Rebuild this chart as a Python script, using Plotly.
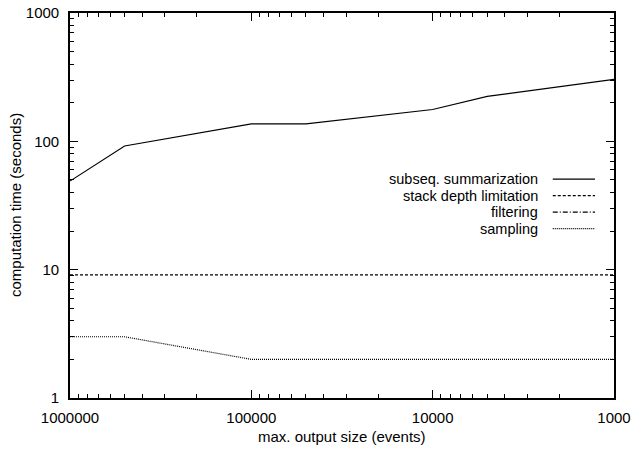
import plotly.graph_objects as go

# Data
output_sizes = [1000000, 500000, 100000, 50000, 10000, 5000, 1000]
subseq_summarization = [49, 92, 137, 137, 177, 224, 304]
stack_depth_limitation = [9.1, 9.1, 9.1, 9.1, 9.1, 9.1, 9.1]
filtering = []  # not visible within the plotted range
sampling = [3, 3, 2, 2, 2, 2, 2]

series_names = ["subseq. summarization", "stack depth limitation", "filtering", "sampling"]
series_dash = ["solid", "3px,2px", "5px,2px,1px,2px", "1px,1px"]
series_values = [subseq_summarization, stack_depth_limitation, filtering, sampling]

x_ticks = [1000000, 100000, 10000, 1000]
x_ticklabels = ["1000000", "100000", "10000", "1000"]
y_ticks = [1, 10, 100, 1000]
y_ticklabels = ["1", "10", "100", "1000"]
x_minor = [m * 10 ** e for e in range(3, 6) for m in range(2, 10)]
y_minor = [m * 10 ** e for e in range(0, 3) for m in range(2, 10)]

W, H = 633, 449
ml, mr, mt, mb = 69.5, 19, 13.3, 50.7
pw, ph = W - ml - mr, H - mt - mb

fig = go.Figure()
for name, vals, dash in zip(series_names, series_values, series_dash):
    fig.add_trace(go.Scatter(
        x=output_sizes[:len(vals)], y=vals, mode="lines", name=name,
        line=dict(color="black", width=1.2, dash=dash), showlegend=False,
    ))

font = dict(family="Liberation Sans, Arial, Helvetica, sans-serif", size=15, color="black")
legend_font = dict(font, size=14.5)

axis_common = dict(
    type="log", showgrid=False, zeroline=False, showline=True, linecolor="black",
    linewidth=1.6, mirror="allticks", ticks="inside", ticklen=8, tickwidth=1,
    tickcolor="black", tickfont=font, automargin=False, tickmode="array",
)
minor_common = dict(ticks="inside", ticklen=4.5, tickwidth=1, tickcolor="black",
                    showgrid=False, tickmode="array")

fig.update_layout(
    template="none",
    width=W, height=H, autosize=False,
    margin=dict(l=ml, r=mr, t=mt, b=mb, pad=0),
    plot_bgcolor="white", paper_bgcolor="white", font=font, showlegend=False,
    xaxis=dict(axis_common, range=[6, 3], autorange=False,
               tickvals=x_ticks, ticktext=x_ticklabels, ticklabelstandoff=5,
               minor=dict(minor_common, tickvals=x_minor)),
    yaxis=dict(axis_common, range=[0, 3], autorange=False,
               tickvals=y_ticks, ticktext=y_ticklabels, ticklabelstandoff=6,
               minor=dict(minor_common, tickvals=y_minor)),
)

# axis titles
fig.add_annotation(text="max. output size (events)", xref="paper", yref="paper",
                   x=0.5, y=-(437 - (mt + ph)) / ph, xanchor="center", yanchor="middle",
                   showarrow=False, font=font)
fig.add_annotation(text="computation time (seconds)", xref="paper", yref="paper",
                   x=-(ml - 15) / pw, y=0.5, xanchor="center", yanchor="middle",
                   textangle=-90, showarrow=False, font=font)

# custom legend (text left of the line sample)
legend_rows = [179.5, 196.0, 212.5, 229.0]
text_right = 538.5
line_x0, line_x1 = 552.7, 595
for name, dash, ypx in zip(series_names, series_dash, legend_rows):
    yp = 1 - (ypx - mt) / ph
    fig.add_annotation(text=name, xref="paper", yref="paper",
                       x=(text_right - ml) / pw, y=yp, xanchor="right", yanchor="middle",
                       showarrow=False, font=legend_font, borderpad=0)
    fig.add_shape(type="line", xref="paper", yref="paper",
                  x0=(line_x0 - ml) / pw, x1=(line_x1 - ml) / pw, y0=yp, y1=yp,
                  line=dict(color="black", width=1.2, dash=dash))

fig.write_html("out.html")
